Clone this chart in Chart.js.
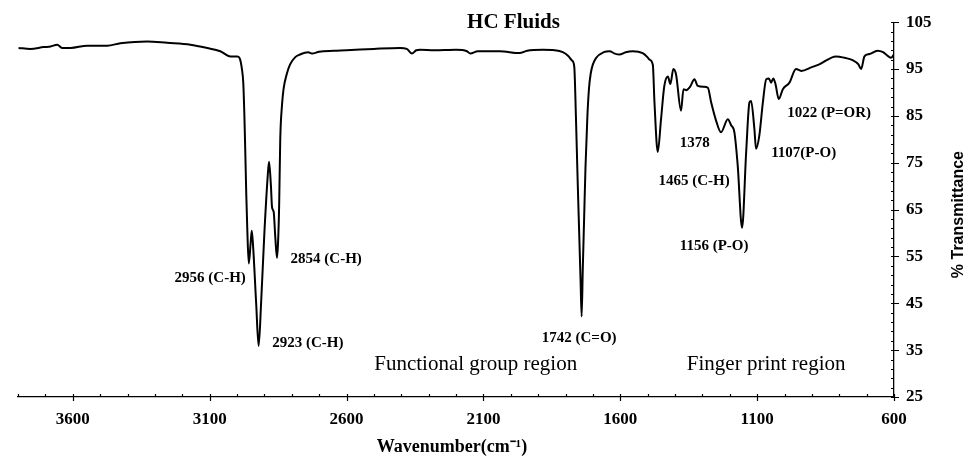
<!DOCTYPE html>
<html>
<head>
<meta charset="utf-8">
<title>HC Fluids</title>
<script src="https://cdn.jsdelivr.net/npm/chart.js@4.4.1/dist/chart.umd.min.js"></script>
<style>
  html, body { margin: 0; padding: 0; background: #fff; }
</style>
</head>
<body>
<canvas id="spectrum" width="972" height="456"></canvas>
<script>
// FTIR spectrum, wavenumber (cm-1) vs % transmittance
const wavenumbers = [
    3798, 3755, 3706, 3681, 3657, 3639, 3608, 3547, 3474, 3426, 3328, 3255, 3170, 3109, 3061, 3024,
    2998, 2990, 2982, 2977, 2973, 2970, 2966, 2962, 2957, 2950, 2946, 2941, 2930, 2921, 2912, 2900,
    2888, 2883, 2876, 2872, 2866, 2860, 2854, 2850, 2846, 2842, 2836, 2830, 2818, 2806, 2788, 2770,
    2740, 2726, 2700, 2648, 2600, 2500, 2404, 2380, 2361, 2345, 2331, 2280, 2200, 2160, 2148, 2120,
    2090, 2040, 1968, 1940, 1883, 1840, 1810, 1790, 1776, 1768, 1762, 1756, 1750, 1745, 1741, 1737,
    1732, 1727, 1720, 1714, 1708, 1700, 1688, 1660, 1639, 1620, 1603, 1580, 1554, 1518, 1500, 1493,
    1481, 1475, 1463, 1451, 1439, 1426, 1417, 1406, 1396, 1378, 1369, 1359, 1345, 1329, 1317, 1295,
    1280, 1268, 1250, 1232, 1207, 1195, 1183, 1171, 1155, 1140, 1128, 1122, 1110, 1104, 1092, 1079,
    1067, 1057, 1049, 1041, 1033, 1021, 1006, 982, 958, 939, 900, 873, 812, 780, 751, 730,
    720, 708, 690, 660, 640, 629, 611, 600
];
const transmittance = [
    99.5, 99.3, 99.7, 99.8, 100.2, 99.5, 99.5, 100.0, 100.0, 100.5, 100.9, 100.6, 100.2, 99.5, 98.8, 97.7,
    97.7, 97.3, 95.0, 92.0, 85.0, 78.0, 68.0, 60.0, 53.5, 58.0, 60.5, 57.0, 45.0, 35.9, 45.0, 60.0,
    72.0, 75.2, 70.0, 65.5, 64.5, 59.0, 54.7, 58.0, 66.0, 80.0, 87.0, 90.7, 94.0, 96.0, 97.5, 98.1,
    98.6, 98.3, 98.7, 98.9, 99.0, 99.3, 99.5, 99.3, 98.3, 99.0, 99.1, 99.0, 99.1, 98.8, 98.3, 98.8,
    98.8, 98.8, 98.4, 98.9, 99.1, 99.0, 98.6, 97.8, 96.8, 95.5, 85.0, 72.0, 60.0, 50.0, 42.2, 52.0,
    63.0, 74.0, 85.0, 91.0, 94.0, 96.0, 97.4, 98.6, 98.8, 98.3, 98.1, 98.6, 98.8, 98.4, 97.5, 97.0,
    95.9, 87.9, 77.3, 84.3, 91.4, 93.4, 91.8, 95.0, 93.8, 86.1, 90.7, 90.5, 91.2, 92.8, 91.4, 91.2,
    91.0, 87.9, 84.0, 81.5, 84.3, 83.0, 81.5, 74.5, 61.1, 77.3, 87.9, 88.2, 82.2, 78.0, 80.8, 87.9,
    92.8, 93.0, 92.1, 93.0, 91.8, 88.6, 90.7, 92.1, 95.0, 94.6, 95.4, 96.0, 97.7, 97.4, 96.9, 96.0,
    95.0, 97.7, 98.2, 98.9, 98.6, 98.1, 97.4, 98.1
];

const xTickValues = [600, 1100, 1600, 2100, 2600, 3100, 3600];
const yTickValues = [25, 35, 45, 55, 65, 75, 85, 95, 105];

const chartTitle = 'HC Fluids';
const xTitle = 'Wavenumber(cm\u207B\u00B9)';
const yTitle = '% Transmittance';

const peakLabels = ['2956 (C-H)', '2923 (C-H)', '2854 (C-H)', '1742 (C=O)', '1378',
    '1465 (C-H)', '1156 (P-O)', '1107(P-O)', '1022 (P=OR)'];
const regionLabels = ['Functional group region', 'Finger print region'];

// where each text is centred, in axis units [wavenumber, %T]
const peakLabelAt = [[3098, 50.4], [2741, 36.5], [2674, 54.5], [1750, 37.6], [1328, 79.2],
    [1330, 71.0], [1257, 57.3], [930, 77.0], [837, 85.5]];
const regionLabelAt = [[2128, 31.9], [1067, 31.9]];
const titleAt = [1990, 104.9];

const SERIF = '"Liberation Serif", "Times New Roman", serif';
const SANS = '"Liberation Sans", Arial, sans-serif';

// small tick marks on both axes (major ones cross the axis line)
const axisTicks = {
    id: 'axisTicks',
    afterDraw(chart) {
        const { ctx, chartArea: area, scales: { x, y } } = chart;
        ctx.save();
        ctx.strokeStyle = '#000';
        ctx.lineWidth = 1.2;
        ctx.beginPath();
        for (let v = 600; v <= 3800; v += 100) {
            const px = Math.round(x.getPixelForValue(v)) + 0.5;
            const major = (v - 600) % 500 === 0;
            ctx.moveTo(px, area.bottom - 3);
            ctx.lineTo(px, area.bottom + (major ? 4 : 0));
        }
        for (let v = 25; v <= 105; v += 2) {
            const py = Math.round(y.getPixelForValue(v)) + 0.5;
            const major = (v - 25) % 10 === 0;
            ctx.moveTo(area.right - 3, py);
            ctx.lineTo(area.right + (major ? 5 : 0), py);
        }
        ctx.stroke();
        ctx.restore();
    }
};

// title, axis titles and the peak / region captions
const captions = {
    id: 'captions',
    afterDraw(chart) {
        const { ctx, chartArea: area, scales: { x, y } } = chart;
        ctx.save();
        ctx.fillStyle = '#000';
        ctx.textAlign = 'center';
        ctx.textBaseline = 'middle';

        ctx.font = 'bold 21px ' + SERIF;
        ctx.fillText(chartTitle, x.getPixelForValue(titleAt[0]), y.getPixelForValue(titleAt[1]));

        ctx.font = 'bold 15px ' + SERIF;
        peakLabels.forEach((text, i) => {
            const [w, t] = peakLabelAt[i];
            ctx.fillText(text, x.getPixelForValue(w), y.getPixelForValue(t));
        });

        ctx.font = '21px ' + SERIF;
        regionLabels.forEach((text, i) => {
            const [w, t] = regionLabelAt[i];
            ctx.fillText(text, x.getPixelForValue(w), y.getPixelForValue(t));
        });

        ctx.font = 'bold 18px ' + SERIF;
        ctx.fillText(xTitle, (area.left + area.right) / 2 - 4, 447);

        ctx.font = 'bold 16px ' + SANS;
        ctx.translate(959, (area.top + area.bottom) / 2 + 5);
        ctx.rotate(-Math.PI / 2);
        ctx.fillText(yTitle, 0, 0);
        ctx.restore();
    }
};

new Chart(document.getElementById('spectrum'), {
    type: 'line',
    data: {
        datasets: [{
            label: chartTitle,
            data: wavenumbers.map((w, i) => ({ x: w, y: transmittance[i] })),
            borderColor: '#000',
            borderWidth: 2,
            pointRadius: 0,
            cubicInterpolationMode: 'monotone',
            fill: false
        }]
    },
    options: {
        responsive: false,
        animation: false,
        layout: {
            padding: { top: 19, left: 18, right: 0, bottom: 0 }
        },
        plugins: {
            legend: { display: false },
            title: { display: false },
            tooltip: { enabled: false }
        },
        scales: {
            x: {
                type: 'linear',
                reverse: true,
                min: 600,
                max: 3800,
                afterBuildTicks: scale => {
                    scale.ticks = xTickValues.map(value => ({ value }));
                },
                afterFit: scale => {
                    scale.height = 59;
                },
                grid: { display: false, drawTicks: false },
                border: { display: true, color: '#000', width: 1.3 },
                ticks: {
                    color: '#000',
                    font: { family: SERIF, size: 17, weight: 'bold' },
                    padding: 12,
                    maxRotation: 0,
                    autoSkip: false,
                    callback: value => String(value)
                }
            },
            y: {
                position: 'right',
                min: 25,
                max: 105,
                afterBuildTicks: scale => {
                    scale.ticks = yTickValues.map(value => ({ value }));
                },
                afterFit: scale => {
                    scale.width = 78;
                },
                grid: { display: false, drawTicks: false },
                border: { display: true, color: '#000', width: 1.3 },
                ticks: {
                    color: '#000',
                    font: { family: SERIF, size: 17, weight: 'bold' },
                    padding: 12,
                    callback: value => String(value)
                }
            }
        }
    },
    plugins: [axisTicks, captions]
});
</script>
</body>
</html>
